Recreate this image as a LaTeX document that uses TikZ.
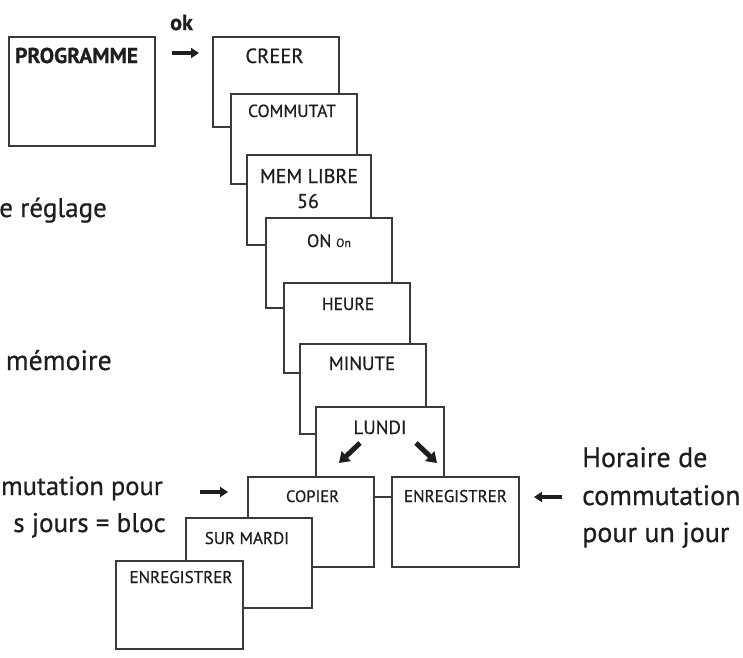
\documentclass[tikz,border=0pt]{standalone}
\usepackage{fontspec}
\setmainfont{PT Sans}[FakeBold=0.6]
\newfontfamily\heavy{PT Sans}[FakeBold=0.6]
\usetikzlibrary{arrows.meta}
\newcommand\fsz[1]{\fontsize{#1pt}{#1pt}\selectfont}
\definecolor{ink}{HTML}{1E1E1E}
\definecolor{edgegray}{HTML}{3A3A3A}
\begin{document}
\begin{tikzpicture}[x=1pt,y=-1pt,
  box/.style={draw=edgegray, line width=1.6pt, fill=white, anchor=north west,
              inner sep=0pt, outer sep=0pt, minimum width=126pt, minimum height=90pt},
  lbl/.style={anchor=base, inner sep=0pt, text=ink, font=\heavy\fsz{18}},
  big/.style={inner sep=0pt, text=ink, font=\heavy\fsz{28}},
  blk/.style={line width=4pt, draw=ink, -{Triangle[width=10pt,length=8pt]}},
  blkd/.style={line width=5pt, draw=ink, -{Triangle[width=13pt,length=10pt]}}
]
\useasboundingbox (0,0) rectangle (743,657);

% PROGRAMME
\node[box, minimum width=146pt, minimum height=109pt] (prog) at (9,37) {};
\node[lbl, anchor=base west, font=\fsz{21.5}\bfseries] (progt) at (15,63) {PROGRAMME};

% ok arrow
\node[lbl, anchor=base west, font=\fsz{22}\bfseries] (ok) at (170,30) {ok};
\coordinate (okA) at (172,53);
\coordinate (okB) at (199,53);
\draw[blk] (okA) -- (okB);

% cascade of boxes
\node[box] (creer) at (213,37) {};
\node[lbl, font=\heavy\fsz{20.5}] (creert) at (274.5,63) {CREER};
\node[box] (comm) at (231,94) {};
\node[lbl, font=\heavy\fsz{17.5}] (commt) at (292,117) {COMMUTAT};
\node[box, minimum width=124pt] (mem) at (247,155) {};
\node[lbl, font=\heavy\fsz{20}] (memt) at (309,183) {MEM LIBRE};
\node[lbl, font=\heavy\fsz{20}] (memn) at (308,208) {56};
\node[box] (on) at (266,218) {};
\node[lbl] (ont) at (329,247) {ON {\fsz{12}On}};
\node[box] (heure) at (284,283) {};
\node[lbl, font=\heavy\fsz{17.5}] (heuret) at (348,310) {HEURE};
\node[box] (minute) at (300,344) {};
\node[lbl, font=\heavy\fsz{19}] (minutet) at (362,370) {MINUTE};
\node[box, minimum width=128pt] (lundi) at (316,407) {};
\node[lbl, font=\heavy\fsz{19}] (lundit) at (380,434) {LUNDI};

% lower boxes
\node[box] (copier) at (248,477) {};
\node[lbl, font=\heavy\fsz{16.5}] (copiert) at (312.5,502) {COPIER};
\node[box, minimum width=127pt] (enr) at (392,477) {};
\node[lbl, font=\heavy\fsz{17}] (enrt) at (455.5,502) {ENREGISTRER};
\node[box] (mardi) at (186,518) {};
\node[lbl, font=\heavy\fsz{17}] (mardit) at (247,544) {SUR MARDI};
\node[box, minimum width=127pt, minimum height=88pt] (enl) at (116,561) {};
\node[lbl, font=\heavy\fsz{17}] (enlt) at (181,583) {ENREGISTRER};

% arrows in LUNDI
\coordinate (la1) at (360,443);
\coordinate (la2) at (339,463);
\coordinate (ra1) at (416,443);
\coordinate (ra2) at (437,463);
\draw[blkd] (la1) -- (la2);
\draw[blkd] (ra1) -- (ra2);

% side arrows
\coordinate (sa1) at (200,492);
\coordinate (sa2) at (228,492);
\draw[blk] (sa1) -- (sa2);
\coordinate (sb1) at (562,497);
\coordinate (sb2) at (534,497);
\draw[blk] (sb1) -- (sb2);

% left (cut) texts
\node[big, anchor=base east, font=\heavy\fsz{27}] (t1) at (107,217) {e réglage};
\node[big, anchor=base east] (t2) at (112,370) {mémoire};
\node[big, anchor=base east, font=\heavy\fsz{26.5}] (t3) at (163,495) {mutation pour};
\node[big, anchor=base east, font=\heavy\fsz{27}] (t4) at (166,532) {s jours = bloc};

% right texts
\node[big, anchor=base west] (r1) at (582,467) {Horaire de};
\node[big, anchor=base west] (r2) at (582,505) {commutation};
\node[big, anchor=base west] (r3) at (582,542) {pour un jour};
\end{tikzpicture}
\end{document}
